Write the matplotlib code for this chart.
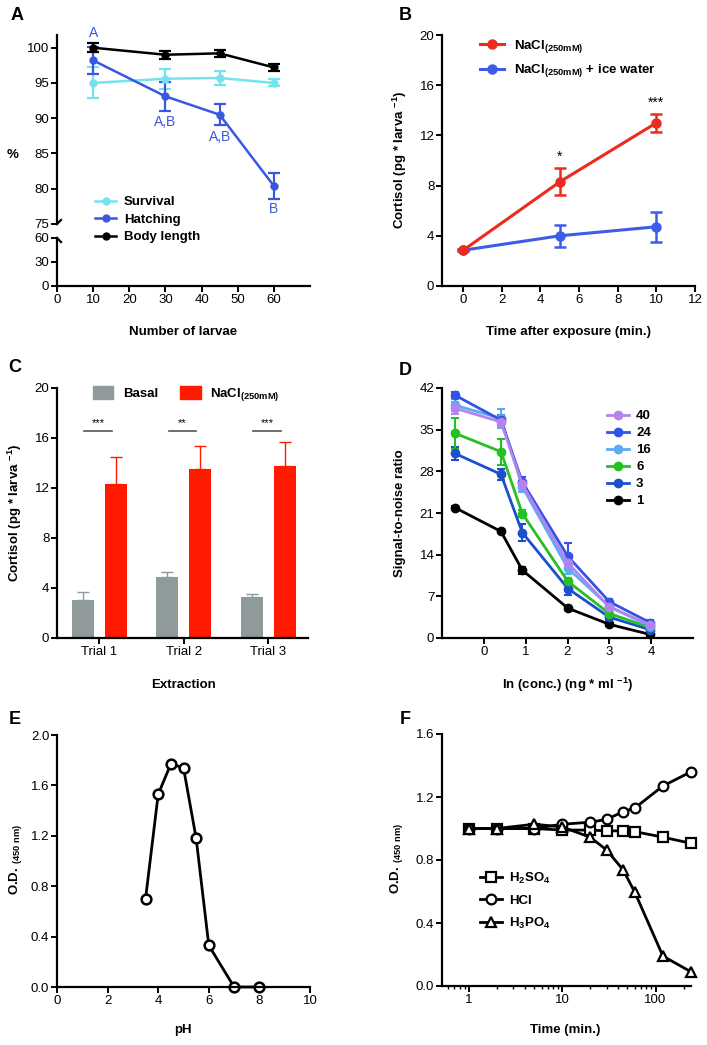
import matplotlib
matplotlib.use("Agg")
import matplotlib.pyplot as plt
import numpy as np
from matplotlib.lines import Line2D
from matplotlib.patches import Patch

plt.rcParams['font.family'] = ['Liberation Sans', 'DejaVu Sans']
plt.rcParams['mathtext.fontset'] = 'custom'
plt.rcParams['mathtext.rm'] = 'Liberation Sans'
plt.rcParams['mathtext.bf'] = 'Liberation Sans:bold'
plt.rcParams['mathtext.default'] = 'regular'

# ---- Data ----
# A: survival / hatching / body length vs number of larvae
larvae_n = [10, 30, 45, 60]
survival = [95.0, 95.6, 95.7, 95.0]
survival_err = [2.2, 1.4, 1.0, 0.5]
hatching = [98.2, 93.1, 90.5, 80.4]
hatching_err = [1.9, 2.1, 1.5, 1.8]
body_len = [100.0, 99.0, 99.2, 97.2]
body_err = [0.6, 0.6, 0.5, 0.5]
hatch_letters = ["A", "A,B", "A,B", "B"]
letter_y = [102.1, 89.5, 87.4, 77.1]

# B: cortisol vs time after exposure
time_b = [0, 5, 10]
nacl_b = [2.85, 8.3, 13.0]
nacl_b_err = [0.1, 1.07, 0.72]
ice_b = [2.85, 4.0, 4.72]
ice_b_err = [0.1, 0.87, 1.2]

# C: extraction trials
trials = ["Trial 1", "Trial 2", "Trial 3"]
basal_c = [3.05, 4.85, 3.25]
basal_c_err = [0.6, 0.45, 0.25]
nacl_c = [12.3, 13.5, 13.76]
nacl_c_err = [2.2, 1.86, 1.9]
sig_c = ["***", "**", "***"]

# D: signal-to-noise ratio
ln_conc = [-0.69, 0.41, 0.92, 2.01, 3.0, 3.97]
snr_labels = ["40", "24", "16", "6", "3", "1"]
snr_vals = {
    "40": [38.6, 36.3, 25.8, 12.6, 5.2, 2.2],
    "24": [40.8, 36.6, 26.2, 13.7, 6.1, 2.6],
    "16": [39.1, 36.9, 25.4, 11.7, 5.3, 2.0],
    "6": [34.4, 31.3, 20.9, 9.5, 4.1, 1.8],
    "3": [31.0, 27.5, 17.7, 8.3, 3.5, 1.4],
    "1": [21.9, 17.9, 11.4, 5.0, 2.3, 0.6],
}
snr_errs = {
    "40": [1.0, 0.8, 0.6, 0.8, 0.4, 0.3],
    "24": [0.5, 0.8, 0.8, 2.3, 0.4, 0.5],
    "16": [1.0, 1.6, 0.8, 1.0, 0.5, 0.4],
    "6": [2.6, 2.2, 0.6, 0.6, 0.4, 0.3],
    "3": [1.1, 0.9, 1.4, 1.0, 0.4, 0.3],
    "1": [0.3, 0.3, 0.6, 0.3, 0.3, 0.3],
}

# E: OD vs pH
ph = [3.5, 4, 4.5, 5, 5.5, 6, 7, 8]
od_ph = [0.70, 1.53, 1.77, 1.74, 1.18, 0.33, 0.0, 0.0]

# F: OD vs time for three acids
time_f = [1, 2, 5, 10, 20, 30, 45, 60, 120, 240]
h2so4 = [1.0, 1.0, 1.0, 0.99, 0.99, 0.985, 0.985, 0.98, 0.945, 0.906]
hcl = [1.0, 1.0, 1.0, 1.027, 1.04, 1.058, 1.107, 1.13, 1.27, 1.36]
h3po4 = [1.0, 1.0, 1.027, 1.01, 0.944, 0.863, 0.737, 0.595, 0.19, 0.09]

# ---- Colours ----
c_surv = "#72e4ee"
c_hatch = "#3a57e0"
c_red = "#ee2a1e"
c_blue = "#3d5ce8"
c_gray = "#8e9b9a"
c_barred = "#ff1a00"
snr_colors = {"40": "#b483f0", "24": "#3352e8", "16": "#5cabf3",
              "6": "#25c024", "3": "#1b4fcc", "1": "#000000"}

W, H = 707, 1045
fig = plt.figure(figsize=(W / 100, H / 100), dpi=100)


def box(x0, y0, x1, y1):
    return [x0 / W, 1 - y1 / H, (x1 - x0) / W, (y1 - y0) / H]


def fx(px):
    return px / W


def fy(py):
    return 1 - py / H


def prism(ax):
    for s in ["top", "right"]:
        ax.spines[s].set_visible(False)
    for s in ["left", "bottom"]:
        ax.spines[s].set_linewidth(1.6)
    ax.tick_params(direction="out", length=4, width=1.4, labelsize=9.5, pad=1.5)


axA = fig.add_axes(box(57, 35, 310, 224))
axA2 = fig.add_axes(box(57, 238, 310, 286))
axB = fig.add_axes(box(442, 35, 695, 286))
axC = fig.add_axes(box(57, 388, 308, 638))
axD = fig.add_axes(box(442, 388, 693, 638))
axE = fig.add_axes(box(57, 735, 310, 987))
axF = fig.add_axes(box(442, 734, 691, 986))
for a in [axA, axA2, axB, axC, axD, axE, axF]:
    prism(a)

# ---- A ----
eb = dict(capsize=4, elinewidth=1.6, capthick=1.6, lw=1.8, marker="o", ms=5, clip_on=False)
axA.errorbar(larvae_n, survival, yerr=survival_err, color=c_surv, **eb)
axA.errorbar(larvae_n, hatching, yerr=hatching_err, color=c_hatch, **eb)
axA.errorbar(larvae_n, body_len, yerr=body_err, color="black", **eb)
for xv, yv, t in zip(larvae_n, letter_y, hatch_letters):
    axA.text(xv, yv, t, color=c_hatch, fontsize=10, ha="center", va="center", clip_on=False)
axA.set_xlim(0, 70)
axA.set_ylim(75, 101.8)
axA.set_yticks([75, 80, 85, 90, 95, 100])
axA.spines["bottom"].set_visible(False)
axA.tick_params(axis="x", bottom=False, labelbottom=False)
axA2.set_xlim(0, 70)
axA2.set_ylim(0, 60)
axA2.set_yticks([0, 30, 60])
axA2.set_xticks([0, 10, 20, 30, 40, 50, 60])
# break marks on the y axis
fig.add_artist(Line2D([fx(57), fx(61)], [fy(224), fy(220)], color="black", lw=1.6))
fig.add_artist(Line2D([fx(57), fx(61)], [fy(238), fy(242)], color="black", lw=1.6))
hA = [Line2D([], [], color=c, lw=1.8, marker="o", ms=5) for c in [c_surv, c_hatch, "black"]]
fig.legend(hA, ["Survival", "Hatching", "Body length"], loc="upper left",
           bbox_to_anchor=(fx(95), fy(196)), frameon=False, borderpad=0, borderaxespad=0,
           handlelength=1.6, handletextpad=0.6, labelspacing=0.4,
           prop=dict(weight="bold", size=9.5))
fig.text(fx(13), fy(155), "%", fontsize=9.5, weight="bold", ha="center", va="center")
fig.text(fx(183), fy(332), "Number of larvae", fontsize=9.5, weight="bold", ha="center", va="center")

# ---- B ----
ebB = dict(capsize=4, elinewidth=1.8, capthick=1.8, lw=2.2, marker="o", ms=6.5)
axB.errorbar(time_b, ice_b, yerr=ice_b_err, color=c_blue, **ebB)
axB.errorbar(time_b, nacl_b, yerr=nacl_b_err, color=c_red, **ebB)
axB.text(5, 10.3, "*", fontsize=10, ha="center", va="center")
axB.text(10, 14.6, "***", fontsize=10, ha="center", va="center")
axB.set_xlim(-1.1, 12)
axB.set_ylim(0, 20)
axB.set_xticks([0, 2, 4, 6, 8, 10, 12])
axB.set_yticks([0, 4, 8, 12, 16, 20])
hB = [Line2D([], [], color=c, lw=2.2, marker="o", ms=6.5) for c in [c_red, c_blue]]
axB.legend(hB, [r"NaCl$_{(250mM)}$", r"NaCl$_{(250mM)}$ + ice water"], loc="upper left",
           bbox_to_anchor=(fx(480), fy(38)), bbox_transform=fig.transFigure, frameon=False,
           borderpad=0, borderaxespad=0, handlelength=1.8, handletextpad=0.8, labelspacing=0.55,
           prop=dict(weight="bold", size=9.5))
fig.text(fx(400), fy(160), r"Cortisol (pg * larva $^{-1}$)", fontsize=9.5, weight="bold",
         rotation=90, ha="center", va="center")
fig.text(fx(568), fy(332), "Time after exposure (min.)", fontsize=9.5, weight="bold", ha="center", va="center")

# ---- C ----
xc = np.arange(1, len(trials) + 1)
bw = 0.26
off = 0.195
axC.bar(xc - off, basal_c, bw, color=c_gray, yerr=[np.zeros(3), basal_c_err], ecolor=c_gray,
        capsize=4, error_kw=dict(elinewidth=1.0, capthick=1.0), label="Basal")
axC.bar(xc + off, nacl_c, bw, color=c_barred, yerr=[np.zeros(3), nacl_c_err], ecolor=c_barred,
        capsize=4, error_kw=dict(elinewidth=1.0, capthick=1.0), label=r"NaCl$_{(250mM)}$")
for xv, s in zip(xc, sig_c):
    axC.plot([xv - 0.18, xv + 0.15], [16.56, 16.56], color="#555555", lw=1.2)
    axC.text(xv - 0.015, 17.2, s, fontsize=8, ha="center", va="center")
axC.set_xlim(0.5, 3.47)
axC.set_ylim(0, 20)
axC.set_yticks([0, 4, 8, 12, 16, 20])
axC.set_xticks(xc)
axC.set_xticklabels(trials)
hC = [Patch(color=c_gray), Patch(color=c_barred)]
axC.legend(hC, ["Basal", r"NaCl$_{(250mM)}$"], loc="upper left", ncol=2,
           bbox_to_anchor=(fx(93), fy(386)), bbox_transform=fig.transFigure, frameon=False,
           borderpad=0, borderaxespad=0, handlelength=1.55, handleheight=1.05,
           handletextpad=0.7, columnspacing=1.7, prop=dict(weight="bold", size=9.5))
fig.text(fx(15), fy(513), r"Cortisol (pg * larva $^{-1}$)", fontsize=9.5, weight="bold",
         rotation=90, ha="center", va="center")
fig.text(fx(183), fy(685), "Extraction", fontsize=9.5, weight="bold", ha="center", va="center")

# ---- D ----
ebD = dict(capsize=3, elinewidth=1.5, capthick=1.5, lw=2.0, marker="o", ms=6, clip_on=False)
for lab in reversed(snr_labels):
    axD.errorbar(ln_conc, snr_vals[lab], yerr=snr_errs[lab], color=snr_colors[lab], **ebD)
axD.set_xlim(-1, 5)
axD.set_ylim(0, 42)
axD.set_xticks([0, 1, 2, 3, 4])
axD.set_yticks([0, 7, 14, 21, 28, 35, 42])
hD = [Line2D([], [], color=snr_colors[l], lw=2.0, marker="o", ms=6) for l in snr_labels]
axD.legend(hD, snr_labels, loc="upper left", bbox_to_anchor=(fx(607), fy(410)),
           bbox_transform=fig.transFigure, frameon=False, borderpad=0, borderaxespad=0,
           handlelength=1.7, handletextpad=0.5, labelspacing=0.36,
           prop=dict(weight="bold", size=9.5))
fig.text(fx(400), fy(513), "Signal-to-noise ratio", fontsize=9.5, weight="bold",
         rotation=90, ha="center", va="center")
fig.text(fx(568), fy(685), r"ln (conc.) (ng * ml $^{-1}$)", fontsize=9.5, weight="bold",
         ha="center", va="center")

# ---- E ----
axE.plot(ph, od_ph, color="black", lw=2.0, marker="o", ms=7, mfc="white", mew=1.8, clip_on=False)
axE.set_xlim(0, 10)
axE.set_ylim(0, 2.0)
axE.set_xticks([0, 2, 4, 6, 8, 10])
axE.set_yticks([0.0, 0.4, 0.8, 1.2, 1.6, 2.0])
axE.set_yticklabels(["0.0", "0.4", "0.8", "1.2", "1.6", "2.0"])
fig.text(fx(15), fy(859), r"O.D. $_{(450\ nm)}$", fontsize=9.5, weight="bold",
         rotation=90, ha="center", va="center")
fig.text(fx(183), fy(1030), "pH", fontsize=9.5, weight="bold", ha="center", va="center")

# ---- F ----
mk = dict(color="black", lw=2.0, ms=7, mfc="white", mew=1.6, clip_on=False)
axF.plot(time_f, h2so4, marker="s", **mk)
axF.plot(time_f, hcl, marker="o", **mk)
axF.plot(time_f, h3po4, marker="^", **mk)
axF.set_xscale("log")
axF.set_xlim(0.515, 240)
axF.set_ylim(0, 1.6)
axF.set_xticks([1, 10, 100])
axF.set_xticklabels(["1", "10", "100"])
axF.tick_params(axis="x", which="minor", length=2, width=1.0)
axF.set_yticks([0.0, 0.4, 0.8, 1.2, 1.6])
axF.set_yticklabels(["0.0", "0.4", "0.8", "1.2", "1.6"])
hF = [Line2D([], [], marker=m, **{k: v for k, v in mk.items() if k != "clip_on"}) for m in ["s", "o", "^"]]
axF.legend(hF, [r"H$_2$SO$_4$", "HCl", r"H$_3$PO$_4$"], loc="upper left",
           bbox_to_anchor=(fx(480), fy(871)), bbox_transform=fig.transFigure, frameon=False,
           borderpad=0, borderaxespad=0, handlelength=1.7, handletextpad=0.5,
           labelspacing=0.65, prop=dict(weight="bold", size=9.5))
fig.text(fx(397), fy(858), r"O.D. $_{(450\ nm)}$", fontsize=9.5, weight="bold",
         rotation=90, ha="center", va="center")
fig.text(fx(565), fy(1030), "Time (min.)", fontsize=9.5, weight="bold", ha="center", va="center")

# ---- panel letters ----
for t, (px, py) in zip("ABCDEF", [(17, 15), (405, 15), (15, 367), (405, 370), (15, 720), (405, 720)]):
    fig.text(fx(px), fy(py), t, fontsize=13, weight="bold", ha="center", va="center")

fig.savefig("out.png", dpi=100)
